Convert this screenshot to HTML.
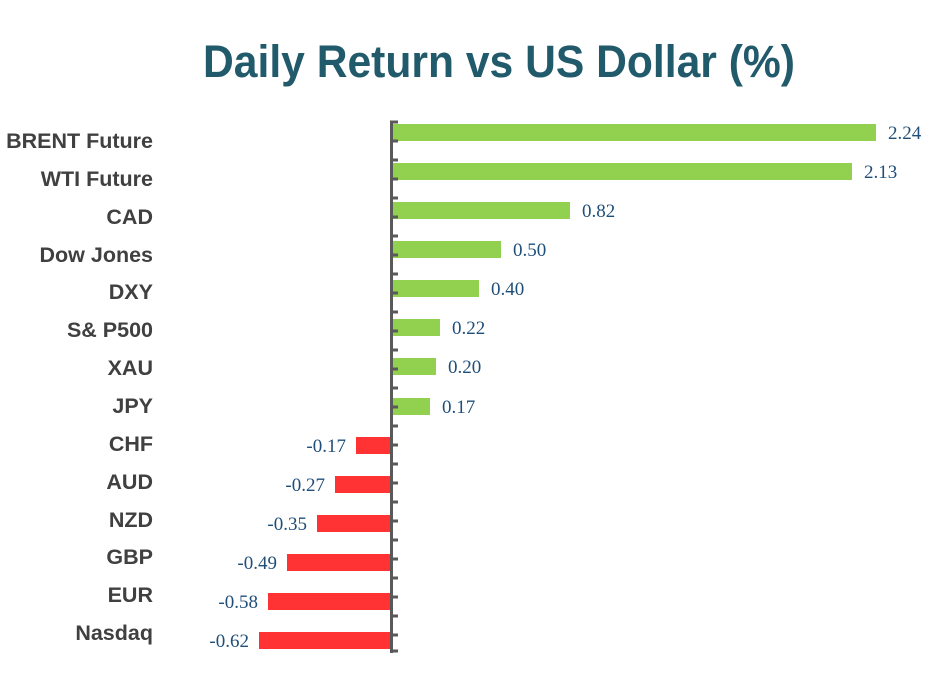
<!DOCTYPE html>
<html><head><meta charset="utf-8"><style>body{margin:0;background:#fff}</style></head><body>
<svg width="941" height="680" xmlns="http://www.w3.org/2000/svg">
<text x="499" y="77" text-anchor="middle" font-family="Liberation Sans, sans-serif" font-weight="bold" font-size="45" fill="#215a6b" textLength="592" lengthAdjust="spacingAndGlyphs">Daily Return vs US Dollar (%)</text>
<g font-family="Liberation Sans, sans-serif" font-weight="bold" font-size="21.5" fill="#404040" text-anchor="end">
<text x="153" y="148">BRENT Future</text>
<text x="153" y="186">WTI Future</text>
<text x="153" y="224">CAD</text>
<text x="153" y="262">Dow Jones</text>
<text x="153" y="299">DXY</text>
<text x="153" y="337">S&amp; P500</text>
<text x="153" y="375">XAU</text>
<text x="153" y="413">JPY</text>
<text x="153" y="451">CHF</text>
<text x="153" y="489">AUD</text>
<text x="153" y="527">NZD</text>
<text x="153" y="564">GBP</text>
<text x="153" y="602">EUR</text>
<text x="153" y="640">Nasdaq</text>
</g>
<g fill="#92d050">
<rect x="393" y="124" width="483" height="17"/>
<rect x="393" y="163" width="459" height="17"/>
<rect x="393" y="202" width="177" height="17"/>
<rect x="393" y="241" width="108" height="17"/>
<rect x="393" y="280" width="86" height="17"/>
<rect x="393" y="319" width="47" height="17"/>
<rect x="393" y="358" width="43" height="17"/>
<rect x="393" y="398" width="37" height="17"/>
</g>
<g fill="#ff3333">
<rect x="356" y="437" width="37" height="17"/>
<rect x="335" y="476" width="58" height="17"/>
<rect x="317" y="515" width="76" height="17"/>
<rect x="287" y="554" width="106" height="17"/>
<rect x="268" y="593" width="125" height="17"/>
<rect x="259" y="632" width="134" height="17"/>
</g>
<g font-family="Liberation Serif, serif" font-size="19" fill="#1f4e79">
<text x="888" y="139">2.24</text>
<text x="864" y="178">2.13</text>
<text x="582" y="217">0.82</text>
<text x="513" y="256">0.50</text>
<text x="491" y="295">0.40</text>
<text x="452" y="334">0.22</text>
<text x="448" y="373">0.20</text>
<text x="442" y="413">0.17</text>
<g text-anchor="end">
<text x="346" y="452">-0.17</text>
<text x="325" y="491">-0.27</text>
<text x="307" y="530">-0.35</text>
<text x="277" y="569">-0.49</text>
<text x="258" y="608">-0.58</text>
<text x="249" y="647">-0.62</text>
</g>
</g>
<rect x="390" y="121" width="3" height="532" fill="#595959"/>
<path stroke="#595959" stroke-width="3" d="M390 122h8M390 141h8M390 160h8M390 179h8M390 198h8M390 217h8M390 236h8M390 255h8M390 274h8M390 293h8M390 312h8M390 331h8M390 350h8M390 369h8M390 388h8M390 407h8M390 426h8M390 445h8M390 464h8M390 483h8M390 502h8M390 521h8M390 540h8M390 559h8M390 578h8M390 597h8M390 616h8M390 635h8M390 651h8"/>
</svg>
</body></html>
